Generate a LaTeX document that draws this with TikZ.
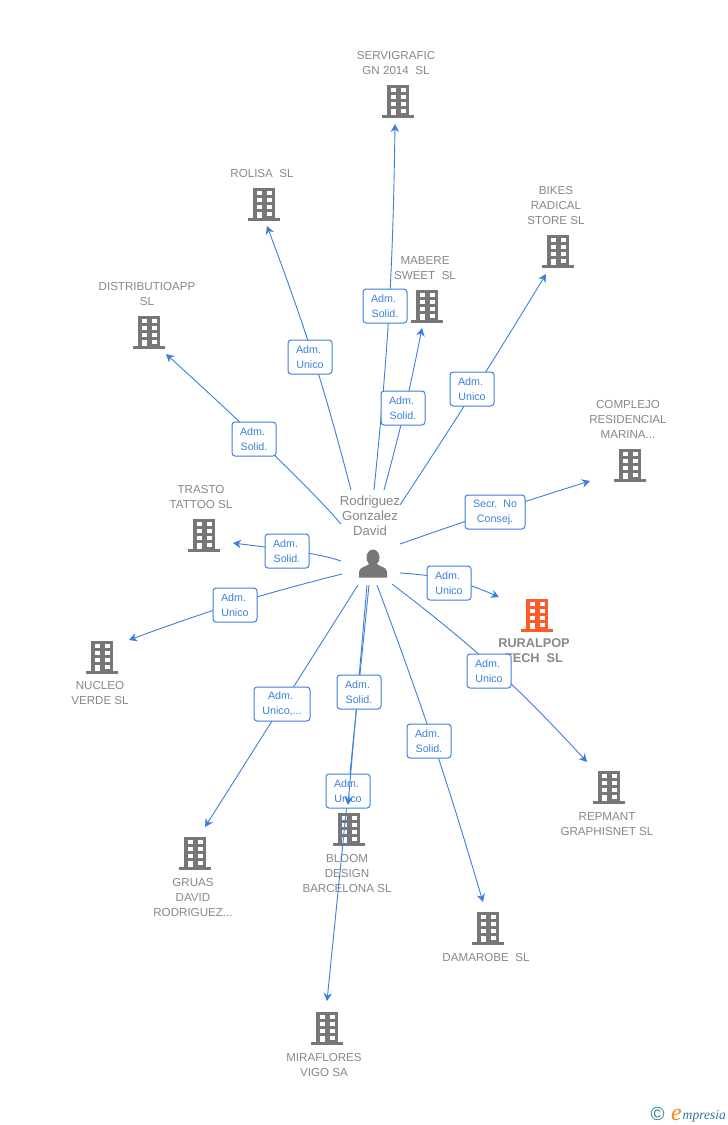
\documentclass[tikz,border=0pt]{standalone}
\usepackage{fontspec}
\setmainfont{Liberation Sans}
\usetikzlibrary{arrows.meta}
\newfontfamily\logofont{Liberation Serif}
\definecolor{linkblue}{HTML}{3B80DE}
\definecolor{icongray}{HTML}{777777}
\definecolor{textgray}{HTML}{888888}
\definecolor{iconorange}{HTML}{FF5A2B}
\definecolor{logoteal}{HTML}{2F7A95}
\definecolor{logoorange}{HTML}{F08A1D}
\tikzset{
  x=1pt,y=-1pt,
  edgeline/.style={draw=linkblue,line width=0.9pt,-{Stealth[length=8pt,width=8.5pt,inset=2.5pt]}},
  relbox/.style={draw=linkblue,fill=white,line width=1pt,rounded corners=3pt,minimum width=44pt,minimum height=34pt,inner sep=0pt,align=center,text=linkblue,font=\fontsize{10.7}{15}\selectfont},
  orgname/.style={align=center,text=textgray,inner sep=0pt,font=\fontsize{11.6}{15}\selectfont},
  building/.pic={
    \fill[pic actions] (-11,-15) rectangle (11,15);
    \fill[pic actions] (-16,15) rectangle (16,18);
    \foreach \r in {-12,-5,2}{
      \fill[white] (-7,\r) rectangle (-2.5,\r+4);
      \fill[white] (3,\r) rectangle (7.5,\r+4);
    }
    \fill[white] (-7,8.5) rectangle (-2.5,15);
    \fill[white] (3,8.5) rectangle (7.5,12.5);
  }
}
\newcommand{\am}[1]{#1\hspace*{3pt}}
\begin{document}
\begin{tikzpicture}
\useasboundingbox[fill=white] (0,0) rectangle (728,1125);
% organisation icons
\pic[fill=icongray] at (398,100) {building};
\pic[fill=icongray] at (264,203) {building};
\pic[fill=icongray] at (149,331) {building};
\pic[fill=icongray] at (427,305) {building};
\pic[fill=icongray] at (558,250) {building};
\pic[fill=icongray] at (630,464) {building};
\pic[fill=icongray] at (204,534) {building};
\pic[fill=icongray] at (102,656) {building};
\pic[fill=iconorange] at (537,614) {building};
\pic[fill=icongray] at (609,786) {building};
\pic[fill=icongray] at (195,852) {building};
\pic[fill=icongray] at (349,828) {building};
\pic[fill=icongray] at (488,927) {building};
\pic[fill=icongray] at (327,1027) {building};
% organisation names
\node[orgname] (nserv) at (396,63) {SERVIGRAFIC\\GN 2014\ \ SL};
\node[orgname] (nrol) at (262,173.7) {ROLISA\ \ SL};
\node[orgname] (ndist) at (147,294) {DISTRIBUTIOAPP\\SL};
\node[orgname] (nmab) at (425,268) {MABERE\\SWEET\ \ SL};
\node[orgname] (nbik) at (556,205.7) {BIKES\\RADICAL\\STORE SL};
\node[orgname] (ncom) at (628,419.7) {COMPLEJO\\RESIDENCIAL\\MARINA...};
\node[orgname] (ntra) at (201,497) {TRASTO\\TATTOO SL};
\node[orgname] (nnuc) at (100,693) {NUCLEO\\VERDE SL};
\node[orgname,font=\fontsize{12.7}{15}\selectfont\bfseries] (nrur) at (534,650.5) {RURALPOP\\TECH\ \ SL};
\node[orgname] (nrep) at (607,824) {REPMANT\\GRAPHISNET SL};
\node[orgname] (ngru) at (193,897.7) {GRUAS\\DAVID\\RODRIGUEZ...};
\node[orgname] (nblo) at (347,873.7) {BLOOM\\DESIGN\\BARCELONA SL};
\node[orgname] (ndam) at (486,957.7) {DAMAROBE\ \ SL};
\node[orgname] (nmir) at (324,1065) {MIRAFLORES\\VIGO SA};
% person
\node[orgname,font=\fontsize{13.2}{15}\selectfont] (person) at (370,516) {Rodriguez\\Gonzalez\\David};
\fill[icongray] (373,557.5) ellipse (6.5 and 8);
\fill[icongray] (359,577.5) -- (359,572) .. controls (359,567) and (366,567) .. (369,564) -- (377,564) .. controls (380,567) and (387,567) .. (387,572) -- (387,577.5) -- cycle;
% free ends of the connectors
\coordinate (s1) at (374,490); \coordinate (t1) at (395,124);
\coordinate (s2) at (351,490); \coordinate (t2) at (267,226);
\coordinate (s3) at (384,490); \coordinate (t3) at (422,328);
\coordinate (s4) at (400,505); \coordinate (t4) at (546,274);
\coordinate (s5) at (341,524); \coordinate (t5) at (166,354);
\coordinate (s6) at (400,544); \coordinate (t6) at (590,481);
\coordinate (s7) at (341,561); \coordinate (t7) at (233,543);
\coordinate (s8) at (342,574); \coordinate (t8) at (129,640);
\coordinate (s9) at (400,573); \coordinate (t9) at (499,597);
\coordinate (s10) at (392,584); \coordinate (t10) at (587,762);
\coordinate (s11) at (358,585); \coordinate (t11) at (205,827);
\coordinate (s12) at (377,585); \coordinate (t12) at (483,902);
\coordinate (s13) at (369,585); \coordinate (t13) at (327,1001);
\coordinate (s14) at (367,585); \coordinate (t14) at (348,805);
% connectors and their boxes
\draw[edgeline] (s1) to[bend right=2.5] (t1);
\node[relbox] (b1) at (385,306) {\am{Adm.}\\Solid.};
\draw[edgeline] (s2) to[bend right=3] (t2);
\node[relbox] (b2) at (310,357) {\am{Adm.}\\Unico};
\draw[edgeline] (s3) to[bend right=2] (t3);
\node[relbox] (b3) at (403,408) {\am{Adm.}\\Solid.};
\draw[edgeline] (s4) to[bend right=1] (t4);
\node[relbox] (b4) at (472,389) {\am{Adm.}\\Unico};
\draw[edgeline] (s5) .. controls (312,490) and (240,421) .. (t5);
\node[relbox] (b5) at (254,439) {\am{Adm.}\\Solid.};
\draw[edgeline] (s6) to[bend left=1] (t6);
\node[relbox,minimum width=60pt] (b6) at (495,512) {Secr.\ \ No\\Consej.};
\draw[edgeline] (s7) .. controls (318,553) and (280,549) .. (t7);
\node[relbox] (b7) at (287,551) {\am{Adm.}\\Solid.};
\draw[edgeline] (s8) to[bend right=3] (t8);
\node[relbox] (b8) at (235,605) {\am{Adm.}\\Unico};
\draw[edgeline] (s9) to[bend left=10] (t9);
\node[relbox] (b9) at (449,583) {\am{Adm.}\\Unico};
\draw[edgeline] (s10) to[bend left=5] (t10);
\node[relbox] (b10) at (489,671) {\am{Adm.}\\Unico};
\draw[edgeline] (s11) to (t11);
\node[relbox,minimum width=56pt] (b11) at (282,704) {\am{Adm.}\\Unico,...};
\draw[edgeline] (s12) to[bend left=2] (t12);
\node[relbox] (b12) at (429,741) {\am{Adm.}\\Solid.};
\draw[edgeline] (s13) to (t13);
\node[relbox] (b13) at (348,791) {\am{Adm.}\\Unico};
\draw[edgeline] (s14) to (t14);
\node[relbox] (b14) at (359,692) {\am{Adm.}\\Solid.};
% logo
\node[inner sep=0pt,text=logoteal,font=\fontsize{19}{19}\selectfont] (copyr) at (657.5,1114) {©};
\node[inner sep=0pt,anchor=base west,text=logoorange,font=\logofont\itshape\fontsize{24}{24}\selectfont] (loge) at (671,1120) {e};
\node[inner sep=0pt,anchor=base west,text=logoteal,font=\logofont\itshape\fontsize{13.6}{13.6}\selectfont] (logot) at (682.5,1119) {mpresia};
\end{tikzpicture}
\end{document}
